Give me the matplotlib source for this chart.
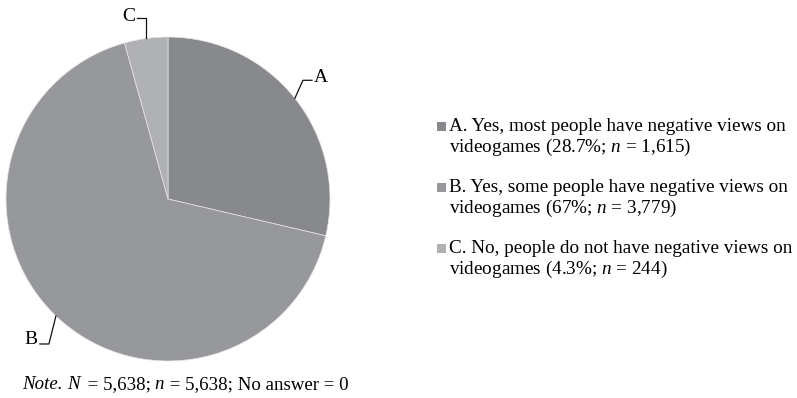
import numpy as np
import matplotlib
matplotlib.use("Agg")
import matplotlib.pyplot as plt
from matplotlib.patches import Rectangle

plt.rcParams['font.family'] = ['Liberation Serif', 'DejaVu Serif']
plt.rcParams['mathtext.fontset'] = 'custom'
plt.rcParams['mathtext.rm'] = 'Liberation Serif'
plt.rcParams['mathtext.it'] = 'Liberation Serif:italic'

letters = ["A", "B", "C"]
counts = [1615, 3779, 244]
percents = ["28.7%", "67%", "4.3%"]
answers = ["Yes, most people have negative views on",
           "Yes, some people have negative views on",
           "No, people do not have negative views on"]
colors = ["#88898d", "#97989c", "#b0b1b5"]
note_parts = [("Note. ", "italic", 0), ("N", "italic", 3), (" = 5,638; ", "normal", -1),
              ("n", "italic", 1), (" = 5,638; No answer = 0", "normal", 0)]

W, H = 797, 398
fig = plt.figure(figsize=(W / 100, H / 100), dpi=100)

# pie axes: centre (168,199) px, radius 162 px
cx, cy, r = 168, 199, 162
ax = fig.add_axes([(cx - r) / W, (H - cy - r) / H, 2 * r / W, 2 * r / H])
wedges, _ = ax.pie(counts, colors=colors, startangle=90, counterclock=False,
                   wedgeprops=dict(edgecolor="#e6e6e6", linewidth=0.5))
ax.set_xlim(-1, 1)
ax.set_ylim(-1, 1)
ax.set_aspect("equal")
ax.axis("off")

px = 1.0 / r  # one pixel in data units
# leader lines: (elbow offset, end offset, text offset, ha)
leaders = {
    "A": ((8, 18), (17, 18), (19, 21), "left"),
    "B": ((-7, -28), (-16, -28), (-18, -24), "right"),
    "C": ((0, 20), (-9, 20), (-11, 22), "right"),
}
for w, lab in zip(wedges, letters):
    mid = np.deg2rad((w.theta1 + w.theta2) / 2)
    x0, y0 = np.cos(mid), np.sin(mid)
    (ex, ey), (fx, fy), (tx, ty), ha = leaders[lab]
    ax.plot([x0, x0 + ex * px, x0 + fx * px], [y0, y0 + ey * px, y0 + fy * px],
            color="#111111", lw=0.9, clip_on=False)
    ax.text(x0 + tx * px, y0 + ty * px, lab, ha=ha, va="center",
            fontsize=14, clip_on=False)

# legend
first_baselines = [131, 192, 253]
for lab, ans, pct, n, col, yb in zip(letters, answers, percents, counts, colors, first_baselines):
    fig.patches.append(Rectangle((437 / W, (H - yb) / H), 9 / W, 9 / H,
                                 transform=fig.transFigure, facecolor=col,
                                 edgecolor="none"))
    fig.text(449 / W, (H - yb) / H, f"{lab}. {ans}", fontsize=13.8,
             ha="left", va="baseline")
    fig.text(449 / W, (H - yb - 21) / H,
             f"videogames ({pct}; " + r"$\it{n}$" + f" = {n:,})", fontsize=13.8,
             ha="left", va="baseline")

# note, drawn piece by piece so italic and roman share normal word spacing
renderer = fig.canvas.get_renderer()
xpos = 22
for s, style, adj in note_parts:
    t = fig.text(xpos / W, (H - 389) / H, s, fontsize=13.6, fontstyle=style,
                 ha="left", va="baseline")
    xpos += t.get_window_extent(renderer).width + adj

fig.savefig("out.png", dpi=100, facecolor="white")
